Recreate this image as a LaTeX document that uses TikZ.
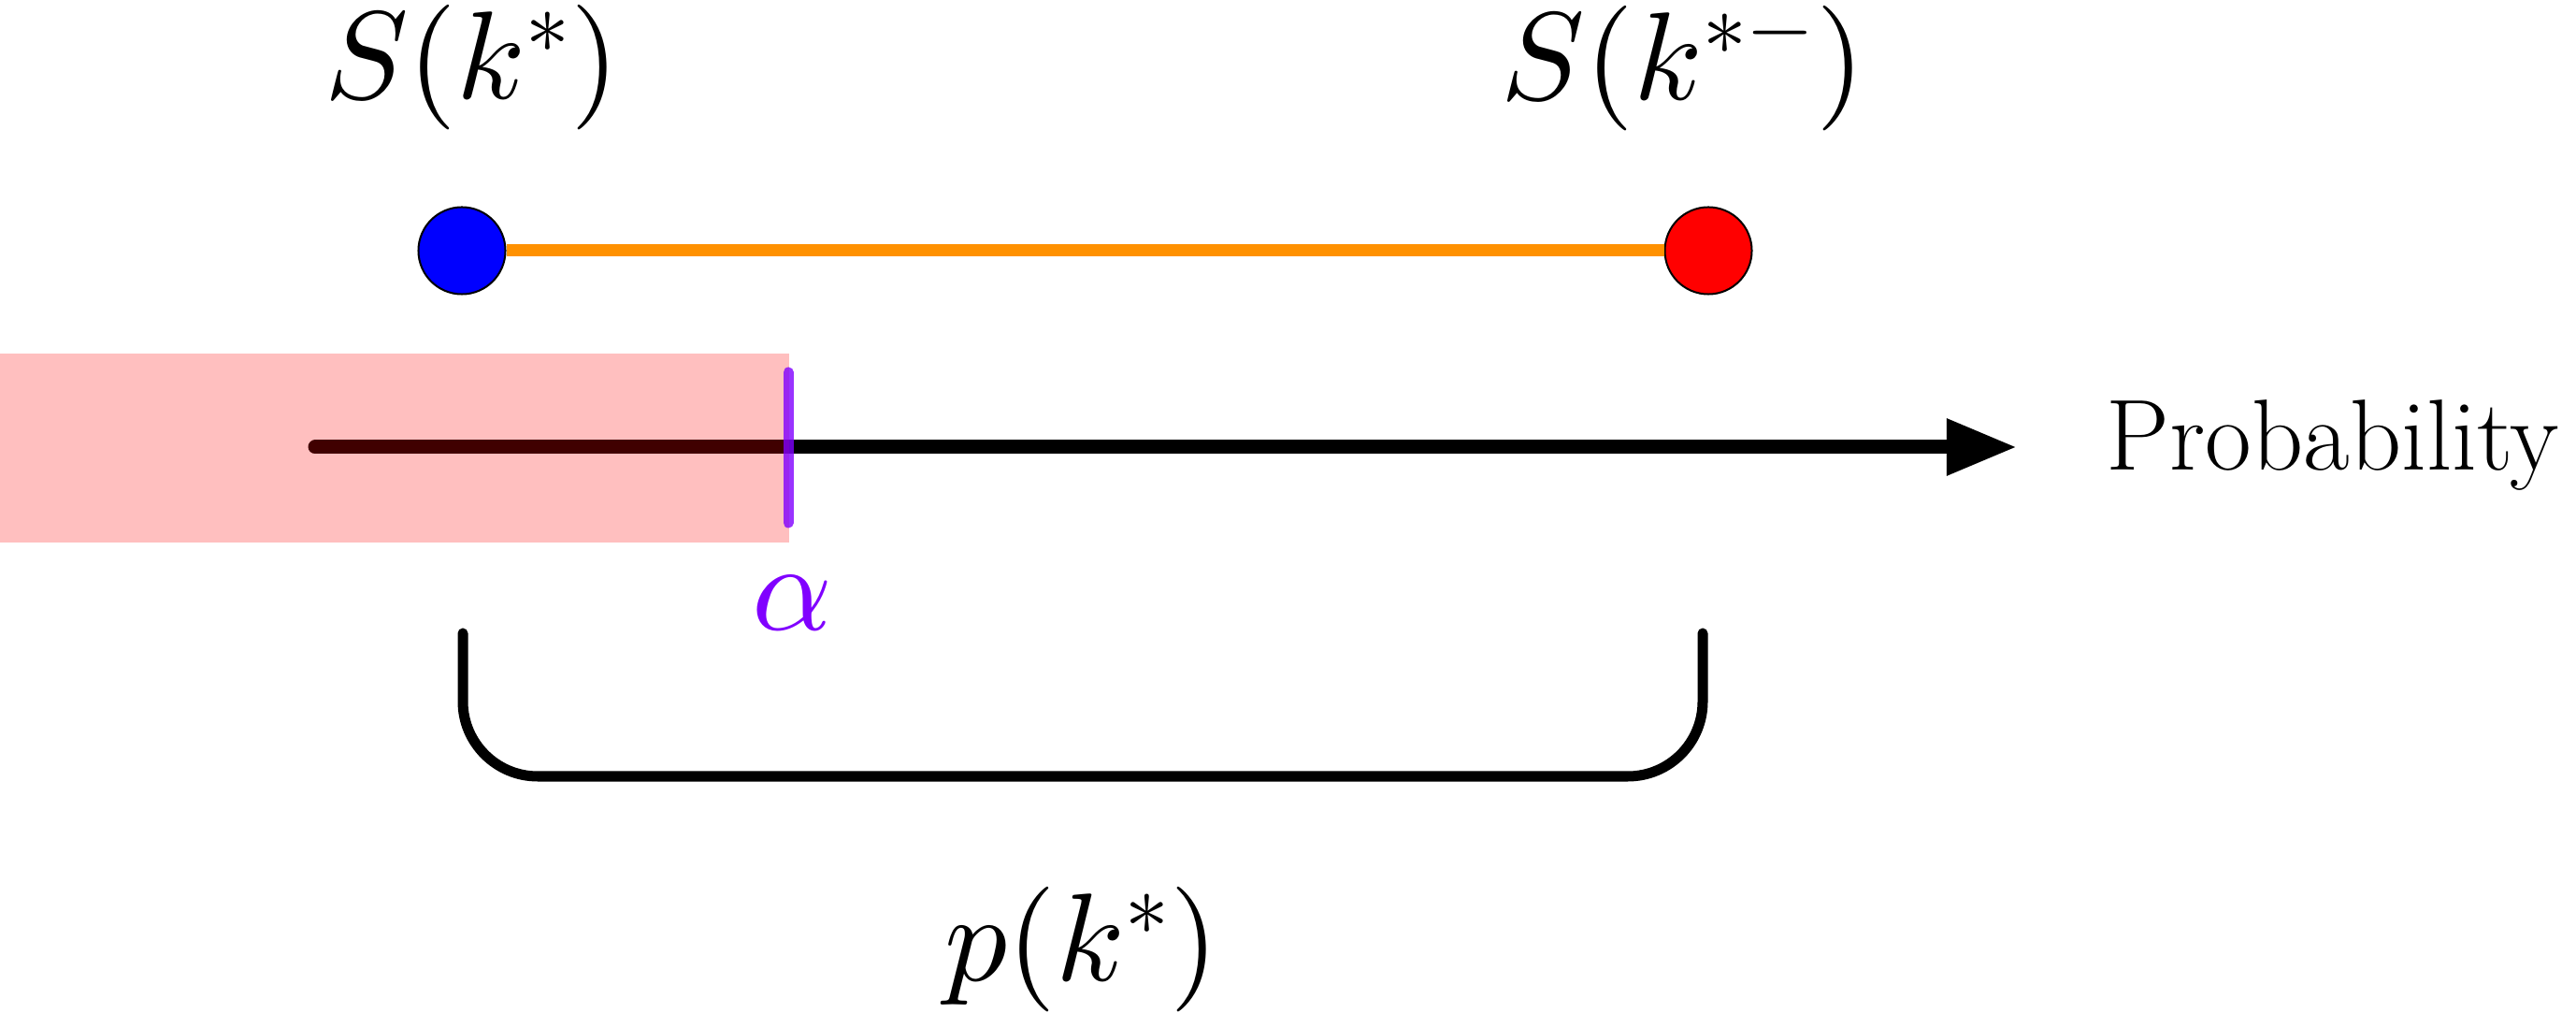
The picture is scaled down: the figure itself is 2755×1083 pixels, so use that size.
\documentclass[tikz,border=0pt]{standalone}
\DeclareFontShape{OML}{cmm}{m}{it}{<->cmmi10}{}
\DeclareFontShape{OT1}{cmr}{m}{n}{<->cmr10}{}
\DeclareFontShape{OMS}{cmsy}{m}{n}{<->cmsy10}{}
\usetikzlibrary{arrows.meta}
\definecolor{myorange}{RGB}{255,145,0}
\definecolor{myviolet}{RGB}{128,0,255}
\begin{document}
\begin{tikzpicture}[x=0.01cm,y=-0.01cm,
  dot/.style={circle,draw=black,line width=0.02cm,minimum size=0.93cm,inner sep=0pt},
  mathlabel/.style={inner sep=0pt,font=\fontsize{38}{45}\selectfont},
  axislabel/.style={inner sep=0pt,anchor=base west,font=\fontsize{30.7}{36}\selectfont}]
\useasboundingbox (0,0) rectangle (2755,1083);
% labels
\node[mathlabel] (sk) at (505,72) {$S(k^*)$};
\node[mathlabel] (skm) at (1800,72) {$S(k^{*-})$};
\node[mathlabel] (pk) at (1157,1015) {$p(k^*)$};
% interval with dots
\node[dot,fill=blue] (blue) at (494,268) {};
\node[dot,fill=red] (red) at (1827,268) {};
\draw[myorange,line width=0.13cm] (blue) -- (red);
% axis
\coordinate (axstart) at (337,478);
\coordinate (axend) at (2157,478);
\draw[line width=0.15cm,line cap=round,-{Triangle[length=0.75cm,width=0.57cm]}] (axstart) -- (axend);
\node[axislabel] (prob) at (2252,503) {Probability};
% shaded region
\fill[red,opacity=0.25] (0,378) rectangle (844,580);
% alpha marker
\coordinate (atop) at (843,398);
\coordinate (abot) at (843,559);
\draw[myviolet,opacity=0.8,line width=0.11cm,line cap=round] (atop) -- (abot);
\node[mathlabel,text=myviolet] (alpha) at (847,645) {$\alpha$};
% bracket
\coordinate (b1) at (495,677);
\coordinate (b2) at (495,830);
\coordinate (b3) at (1821,830);
\coordinate (b4) at (1821,677);
\draw[line width=0.11cm,line cap=round,rounded corners=0.8cm] (b1) -- (b2) -- (b3) -- (b4);
\end{tikzpicture}
\end{document}
